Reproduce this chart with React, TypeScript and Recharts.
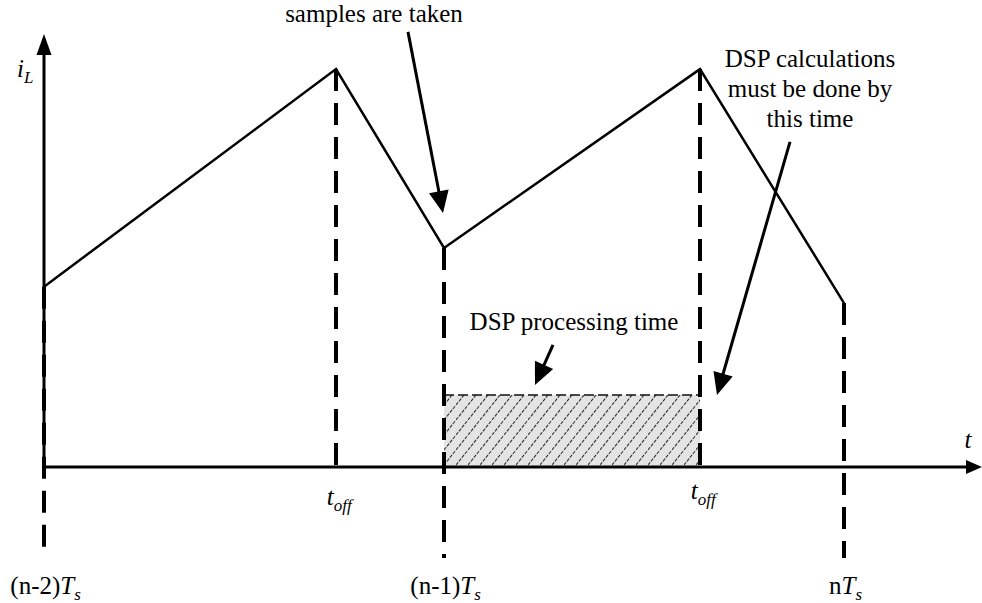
import React from 'react';
import {
  LineChart,
  Line,
  XAxis,
  YAxis,
  ReferenceLine,
  ReferenceArea,
  ReferenceDot,
} from 'recharts';

// inductor current, one point per switching instant (time in units of Ts)
const times = [0, 0.73, 1.0, 1.64, 2.0];
const current = [3.86, 8.52, 4.69, 8.52, 3.51];

// sampling instants and the t_off instants
const periodMarks = [0, 1.0, 2.0];
const periodNames = ['(n-2)', '(n-1)', 'n'];
const toffMarks = [0.73, 1.64];
const toffLabelY = [-0.81, -0.685];

// DSP processing window
const dspStart = 1.0;
const dspEnd = 1.64;
const dspLevel = 1.54;

const data = times.map((t, i) => ({ t, iL: current[i] }));

const FONT = '"Liberation Serif", "Times New Roman", Times, serif';
const SIZE = 25;
const SUB = 17;

type Part = { t: string; i?: boolean; sub?: boolean };

const TextMark = (props: any) => {
  const { cx, cy, parts, anchor = 'middle' } = props;
  let shift = 0;
  return (
    <text
      x={cx}
      y={cy}
      textAnchor={anchor}
      fill="#000"
      style={{ fontFamily: FONT, fontSize: SIZE }}
    >
      {parts.map((p: Part, k: number) => {
        const target = p.sub ? 6 : 0;
        const dy = target - shift;
        shift = target;
        return (
          <tspan
            key={k}
            dy={dy}
            style={{ fontStyle: p.i ? 'italic' : 'normal', fontSize: p.sub ? SUB : SIZE }}
          >
            {p.t}
          </tspan>
        );
      })}
    </text>
  );
};

const ArrowShape = (props: any) => {
  const { x1, y1, x2, y2, hl = 22, hw = 10, sw = 3 } = props;
  const dx = x2 - x1;
  const dy = y2 - y1;
  const len = Math.hypot(dx, dy) || 1;
  const ux = dx / len;
  const uy = dy / len;
  const bx = x2 - ux * hl;
  const by = y2 - uy * hl;
  const pts = `${x2},${y2} ${bx - uy * hw},${by + ux * hw} ${bx + uy * hw},${by - ux * hw}`;
  return (
    <g>
      <line x1={x1} y1={y1} x2={bx + ux} y2={by + uy} stroke="#000" strokeWidth={sw} />
      <polygon points={pts} fill="#000" />
    </g>
  );
};

const HatchBox = (props: any) => {
  const { x, y, width, height } = props;
  return (
    <g>
      <defs>
        <pattern id="dspHatch" patternUnits="userSpaceOnUse" width="12" height="15">
          <rect width="12" height="15" fill="#e4e4e4" />
          <line x1="0" y1="15" x2="12" y2="0" stroke="#333" strokeWidth="1.1" strokeDasharray="3.5 1.2" />
        </pattern>
      </defs>
      <rect x={x} y={y} width={width} height={height} fill="url(#dspHatch)" />
      <line x1={x} y1={y} x2={x + width} y2={y} stroke="#111" strokeWidth={1.6} strokeDasharray="10 4" />
    </g>
  );
};

const labels: { x: number; y: number; parts: Part[]; anchor?: string }[] = [
  { x: 0.825, y: 9.53, parts: [{ t: 'samples are taken' }] },
  { x: 1.915, y: 8.567, parts: [{ t: 'DSP calculations' }] },
  { x: 1.915, y: 7.925, parts: [{ t: 'must be done by' }] },
  { x: 1.915, y: 7.282, parts: [{ t: 'this time' }] },
  { x: 1.325, y: 2.934, parts: [{ t: 'DSP processing time' }] },
  { x: -0.0675, y: 8.353, anchor: 'start', parts: [{ t: 'i', i: true }, { t: 'L', i: true, sub: true }] },
  { x: 2.31, y: 0.407, parts: [{ t: 't', i: true }] },
];

const arrows: [number, number, number, number][] = [
  [0.91, 9.317, 0.9975, 5.44],
  [1.2725, 2.613, 1.2275, 1.756],
  [1.865, 6.961, 1.6825, 1.542],
];

const App: React.FC = () => {
  return (
    <div style={{ position: 'absolute', left: 0, top: 0, background: '#fff' }}>
      <LineChart
        width={982}
        height={607}
        data={data}
        margin={{ top: 0, right: 0, bottom: 0, left: 44 }}
      >
        <XAxis type="number" dataKey="t" domain={[0, 2.345]} hide allowDataOverflow />
        <YAxis type="number" domain={[-3, 10]} hide allowDataOverflow />

        <ReferenceArea
          x1={dspStart}
          x2={dspEnd}
          y1={0}
          y2={dspLevel}
          ifOverflow="visible"
          shape={(p: any) => <HatchBox {...p} />}
        />

        {periodMarks.map((m, i) => (
          <ReferenceLine
            key={`p${i}`}
            segment={[
              { x: m, y: current[times.indexOf(m)] ?? 0 },
              { x: m, y: -1.95 },
            ]}
            stroke="#000"
            strokeWidth={4}
            strokeDasharray="22 12"
            ifOverflow="visible"
          />
        ))}
        {toffMarks.map((m, i) => (
          <ReferenceLine
            key={`o${i}`}
            segment={[
              { x: m, y: current[times.indexOf(m)] },
              { x: m, y: 0 },
            ]}
            stroke="#000"
            strokeWidth={4}
            strokeDasharray="22 12"
            ifOverflow="visible"
          />
        ))}

        {/* axes with arrow heads */}
        <ReferenceLine
          segment={[{ x: 0, y: 0 }, { x: 2.345, y: 0 }]}
          ifOverflow="visible"
          shape={(p: any) => <ArrowShape {...p} hl={16} hw={7} sw={3} />}
        />
        <ReferenceLine
          segment={[{ x: 0, y: -0.02 }, { x: 0, y: 9.27 }]}
          ifOverflow="visible"
          shape={(p: any) => <ArrowShape {...p} hl={21} hw={7.5} sw={3} />}
        />

        <Line
          type="linear"
          dataKey="iL"
          stroke="#000"
          strokeWidth={2.5}
          dot={false}
          isAnimationActive={false}
        />

        {arrows.map((a, i) => (
          <ReferenceLine
            key={`a${i}`}
            segment={[{ x: a[0], y: a[1] }, { x: a[2], y: a[3] }]}
            ifOverflow="visible"
            shape={(p: any) => <ArrowShape {...p} hl={22} hw={10} sw={3} />}
          />
        ))}

        {labels.map((l, i) => (
          <ReferenceDot
            key={`l${i}`}
            x={l.x}
            y={l.y}
            ifOverflow="visible"
            shape={(p: any) => <TextMark {...p} parts={l.parts} anchor={l.anchor} />}
          />
        ))}
        {toffMarks.map((m, i) => (
          <ReferenceDot
            key={`tl${i}`}
            x={m + 0.008}
            y={toffLabelY[i]}
            ifOverflow="visible"
            shape={(p: any) => (
              <TextMark {...p} parts={[{ t: 't', i: true }, { t: 'off', i: true, sub: true }]} />
            )}
          />
        ))}
        {periodMarks.map((m, i) => (
          <ReferenceDot
            key={`pl${i}`}
            x={m + 0.004}
            y={-2.72}
            ifOverflow="visible"
            shape={(p: any) => (
              <TextMark
                {...p}
                parts={[{ t: periodNames[i] }, { t: 'T', i: true }, { t: 's', i: true, sub: true }]}
              />
            )}
          />
        ))}
      </LineChart>
    </div>
  );
};

export default App;
